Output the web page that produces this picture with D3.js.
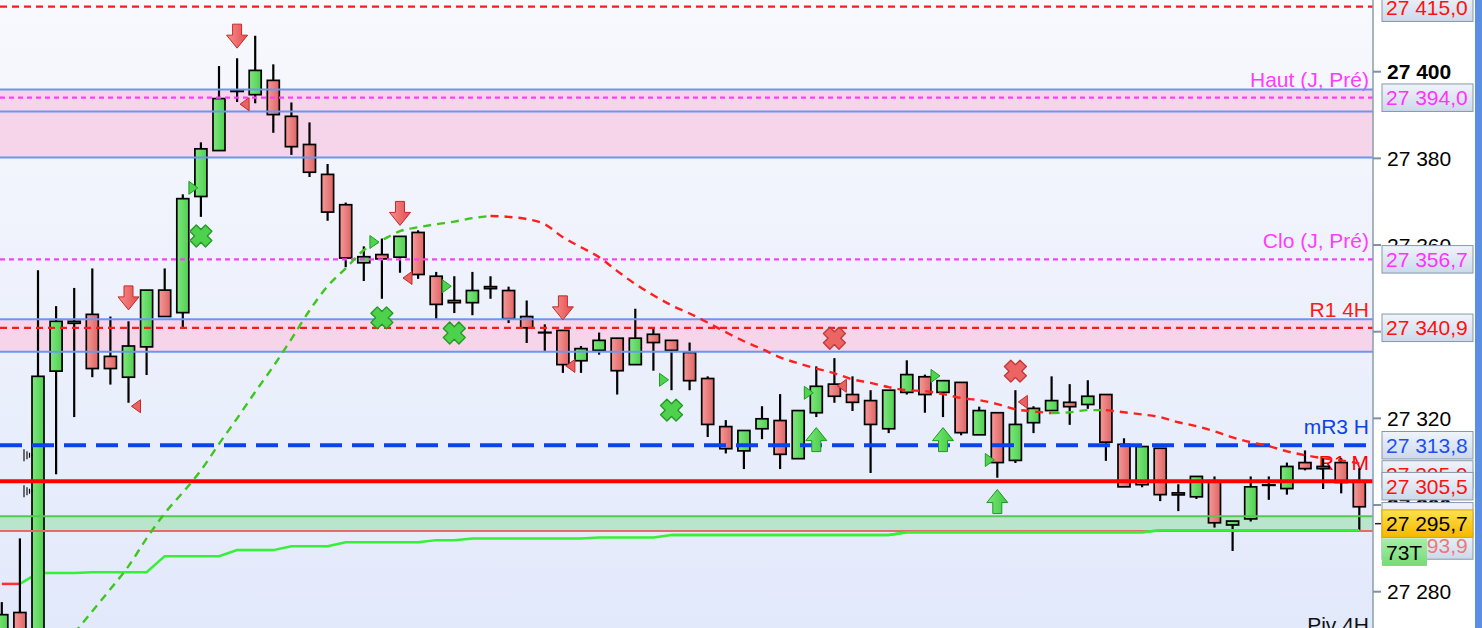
<!DOCTYPE html>
<html lang="fr">
<head>
<meta charset="UTF-8">
<title>Chandeliers 27 300</title>
<style>
  body { margin: 0; overflow: hidden; background: #fff; }
  svg { display: block; font-family: "Liberation Sans", Arial, sans-serif; }
  .wick { stroke: #000; stroke-width: 2.2; }
  .body { stroke: #000; stroke-width: 1.7; }
  .tick-label { font-size: 21px; fill: #000; }
  .lvl-label { font-size: 21px; text-anchor: end; }
  .tag-text { font-size: 21px; }
</style>
<script src="https://d3js.org/d3.v7.min.js"></script>
</head>
<body>
<script>
// candles, one per bar (index 0 = partly cut off on the left)
const opens = [27263, 27275.2, 27256, 27330.9, 27342.1, 27344.0, 27334.3, 27329.5, 27336.5, 27349.6,
  27344.4, 27371.2, 27381.8, 27395.5, 27394.7, 27398.0, 27389.7, 27383.2, 27376.3, 27369.3,
  27355.9, 27357.8, 27357.2, 27362.9, 27352.8, 27346.7, 27346.7, 27350.4, 27349.5, 27343.5,
  27339.8, 27340.3, 27333.3, 27335.7, 27338.5, 27332.4, 27339.4, 27338.0, 27335.2, 27329.2,
  27318.1, 27312.5, 27317.6, 27319.5, 27310.7, 27321.3, 27327.9, 27325.5, 27324.1, 27317.6,
  27326.0, 27329.6, 27326.0, 27328.3, 27316.2, 27321.3, 27310.3, 27319.0, 27321.8, 27323.7,
  27323.2, 27325.5, 27314.0, 27304.7, 27313.1, 27302.8, 27301.9, 27305.6, 27295.4, 27296.8,
  27304.6, 27303.8, 27309.8, 27308.4, 27309.8, 27305.6];
const highs = [27277.6, 27292.3, 27354.2, 27345.9, 27350.1, 27354.6, 27343.5, 27342.4, 27349.6, 27354.6,
  27371.7, 27383.7, 27401.3, 27403.1, 27408.3, 27401.7, 27392.9, 27388.3, 27378.7, 27369.8,
  27359.7, 27361.5, 27362.0, 27363.4, 27353.8, 27352.8, 27353.8, 27352.8, 27350.4, 27347.2,
  27341.7, 27340.3, 27336.7, 27339.8, 27338.5, 27345.3, 27340.8, 27338.0, 27337.5, 27329.7,
  27319.6, 27317.2, 27322.8, 27325.6, 27321.8, 27332.0, 27333.9, 27329.7, 27326.5, 27326.5,
  27333.4, 27330.1, 27328.7, 27328.3, 27322.7, 27321.3, 27326.5, 27322.8, 27329.7, 27327.9,
  27328.8, 27325.5, 27315.4, 27313.5, 27313.1, 27304.8, 27306.6, 27306.6, 27296.3, 27306.6,
  27306.6, 27309.8, 27312.6, 27310.8, 27310.8, 27308.5];
const lows = [27259, 27263, 27251, 27307.1, 27320.3, 27329.5, 27327.8, 27323.6, 27330.0, 27343.5,
  27341.1, 27366.5, 27381.8, 27393.0, 27392.7, 27385.9, 27380.8, 27375.7, 27365.6, 27354.9,
  27351.7, 27347.6, 27353.6, 27352.2, 27342.9, 27344.3, 27343.8, 27347.6, 27342.0, 27337.4,
  27335.6, 27330.5, 27330.5, 27334.7, 27325.5, 27332.4, 27331.0, 27326.5, 27326.5, 27315.7,
  27311.9, 27308.3, 27315.2, 27308.3, 27310.7, 27320.3, 27323.6, 27321.7, 27307.4, 27316.6,
  27325.5, 27321.3, 27320.3, 27316.1, 27316.2, 27306.3, 27309.7, 27316.6, 27321.8, 27318.5,
  27322.2, 27310.2, 27304.2, 27304.1, 27300.9, 27298.6, 27301.4, 27294.8, 27289.4, 27296.2,
  27301.2, 27302.4, 27308.0, 27303.7, 27302.7, 27294.2];
const closes = [27274.7, 27266, 27329.7, 27342.4, 27342.4, 27331.5, 27331.5, 27336.7, 27349.6, 27343.5,
  27370.7, 27382.2, 27393.8, 27395.5, 27400.3, 27390.1, 27382.7, 27376.8, 27367.6, 27357.0,
  27357.3, 27356.8, 27362.0, 27353.2, 27346.3, 27347.2, 27349.5, 27350.0, 27343.0, 27340.9,
  27339.8, 27332.4, 27336.1, 27338.0, 27331.0, 27338.5, 27337.5, 27335.7, 27328.7, 27318.6,
  27313.0, 27317.2, 27319.9, 27311.7, 27321.8, 27327.4, 27325.1, 27323.7, 27318.6, 27326.5,
  27330.1, 27325.5, 27328.7, 27316.7, 27321.8, 27309.8, 27318.6, 27322.3, 27324.1, 27322.7,
  27325.1, 27314.5, 27304.2, 27313.5, 27302.4, 27302.4, 27306.6, 27295.9, 27296.3, 27304.2,
  27304.6, 27308.9, 27308.4, 27308.9, 27305.2, 27299.6];

// dashed moving average, starts at bar 4
const maStart = 4;
const maValues = [27270.4, 27275.5, 27280.6, 27285.9, 27292.3, 27298.1, 27302.9, 27308.0, 27314.1, 27320.0,
  27326.1, 27332.0, 27338.3, 27344.9, 27350.5, 27354.6, 27358.8, 27361.1, 27363.2, 27364.1,
  27364.8, 27365.4, 27366.2, 27366.7, 27366.5, 27366.0, 27364.8, 27361.8, 27359.5, 27357.2,
  27354.0, 27351.0, 27348.4, 27346.1, 27344.2, 27342.1, 27339.9, 27337.8, 27336.0, 27334.1,
  27332.7, 27331.5, 27330.4, 27329.0, 27328.2, 27327.2, 27326.5, 27326.3, 27325.6, 27324.7,
  27324.2, 27323.3, 27322.1, 27321.6, 27321.2, 27321.4, 27321.9, 27321.9, 27321.4, 27320.9,
  27320.3, 27319.1, 27318.2, 27317.0, 27315.6, 27314.5, 27313.6, 27312.4, 27311.5, 27310.8,
  27310.3, 27309.6];

// stepped trailing stop
const trailValues = [27281.8, 27281.8, 27284.3, 27284.3, 27284.3, 27284.5, 27284.5, 27284.5, 27284.5, 27288.2,
  27288.2, 27288.2, 27288.2, 27289.6, 27289.6, 27289.6, 27290.5, 27290.5, 27290.5, 27291.4,
  27291.4, 27291.4, 27291.4, 27291.4, 27291.9, 27291.9, 27292.3, 27292.3, 27292.3, 27292.3,
  27292.3, 27292.3, 27292.3, 27292.5, 27292.5, 27292.5, 27292.5, 27293.1, 27293.1, 27293.1,
  27293.1, 27293.1, 27293.1, 27293.1, 27293.1, 27293.1, 27293.1, 27293.1, 27293.1, 27293.1,
  27293.7, 27293.7, 27293.7, 27293.7, 27293.7, 27293.7, 27293.7, 27293.7, 27293.7, 27293.7,
  27293.7, 27293.7, 27293.7, 27293.7, 27294.2, 27294.2, 27294.2, 27294.2, 27294.2, 27294.2,
  27294.2, 27294.2, 27294.2, 27294.2, 27294.2, 27294.2];

// horizontal levels
const levelValues = [27415.0, 27394.0, 27356.7, 27340.9, 27313.8, 27305.5];
const levelNames = ["Top", "Haut (J, Pré)", "Clo (J, Pré)", "R1 4H", "mR3 H", "R1 M"];
const zoneTops = [27395.9, 27342.9];
const zoneBottoms = [27380.2, 27335.4];
const zoneInner = [27390.8];
const greenZone = [27297.4, 27294.0];

// right-hand price tags
const tagValues = [27415.0, 27394.0, 27356.7, 27340.9, 27313.8, 27305.9, 27305.5, 27297.4, 27293.9, 27295.7];
const currentPrice = 27295.7;
const timerText = "73T";
const tickValues = [27280, 27300, 27320, 27340, 27360, 27380, 27400];

// signals (bar index, price)
const arrowDownIdx = [7, 13, 22, 31];
const arrowDownVal = [27347.8, 27408.2, 27367.3, 27345.5];
const arrowUpIdx = [45, 52, 55];
const arrowUpVal = [27315.1, 27315.1, 27300.8];
const crossGreenIdx = [11, 21, 25, 37];
const crossGreenVal = [27362.1, 27343.2, 27339.7, 27321.9];
const crossRedIdx = [46, 56];
const crossRedVal = [27338.5, 27330.9];
const triRedIdx = [7, 13, 22, 31, 46, 56];
const triRedVal = [27322.8, 27392.5, 27352.4, 27332.1, 27327.5, 27323.8];
const triGreenIdx = [11, 21, 25, 37, 45, 52, 55];
const triGreenVal = [27373.2, 27360.7, 27350.5, 27328.9, 27325.9, 27329.8, 27310.4];

const width = 1482, height = 628;
const plotRight = 1373;
const axisRight = 1475;

const fr = d3.formatLocale({ decimal: ",", thousands: " ", grouping: [3], currency: ["", ""] });
const fmtTag = fr.format(",.1f");
const fmtTick = fr.format(",.0f");

const x = d3.scaleLinear().domain([0, opens.length - 1]).range([1.8, 1359.3]);
const y = d3.scaleLinear().domain([27280, 27400]).range([591.7, 71.7]);

const svg = d3.select("body").append("svg")
  .attr("width", width)
  .attr("height", height);

const defs = svg.append("defs");
function grad(id, stops, horizontal) {
  const g = defs.append("linearGradient").attr("id", id)
    .attr("x1", 0).attr("y1", 0)
    .attr("x2", horizontal ? 1 : 0).attr("y2", horizontal ? 0 : 1);
  stops.forEach((c, i) => g.append("stop").attr("offset", i / (stops.length - 1)).attr("stop-color", c));
}
grad("bg", ["#f8f9fd", "#e2e9fb"], false);
grad("gUp", ["#7fe67f", "#4fd04f"], true);
grad("gDn", ["#f49a9a", "#e06464"], true);
grad("tagBg", ["#f0f4fb", "#ccd9ea"], false);
grad("tagGold", ["#ffe24d", "#f5b700"], false);
grad("tagGreen", ["#a8eea8", "#76da76"], false);
grad("arrRed", ["#f89090", "#e24c4c"], true);
grad("arrGreen", ["#7fe67f", "#3cc83c"], true);

defs.append("clipPath").attr("id", "plotClip")
  .append("rect").attr("x", 0).attr("y", 0).attr("width", plotRight).attr("height", height);

// plot background
svg.append("rect")
  .attr("x", 0).attr("y", 0).attr("width", plotRight).attr("height", height)
  .attr("fill", "url(#bg)");

const plot = svg.append("g").attr("clip-path", "url(#plotClip)");

// zones
plot.selectAll(".zone")
  .data(zoneTops)
  .enter().append("rect")
  .attr("class", "zone")
  .attr("x", 0).attr("width", plotRight)
  .attr("y", d => y(d))
  .attr("height", (d, i) => y(zoneBottoms[i]) - y(d))
  .attr("fill", "#f6d4ea");

plot.append("rect")
  .attr("x", 0).attr("width", plotRight)
  .attr("y", y(greenZone[0]))
  .attr("height", y(greenZone[1]) - y(greenZone[0]))
  .attr("fill", "#b8e5cb");

// level labels (under the candles)
const levelStyle = {
  "Top": { color: "#ff1a1a", width: 2.2, dash: "7,5" },
  "Haut (J, Pré)": { color: "#ff3cff", width: 2.2, dash: "5,4" },
  "Clo (J, Pré)": { color: "#ff3cff", width: 2.2, dash: "5,4" },
  "R1 4H": { color: "#ff1a1a", width: 2.2, dash: "7,5" },
  "mR3 H": { color: "#0a44e8", width: 4, dash: "22,10" },
  "R1 M": { color: "#ff0000", width: 4, dash: null }
};

plot.selectAll(".lvl-label")
  .data(levelValues.slice(1))
  .enter().append("text")
  .attr("class", "lvl-label")
  .attr("x", plotRight - 4)
  .attr("y", d => y(d) - 11)
  .attr("fill", (d, i) => levelStyle[levelNames[i + 1]].color)
  .text((d, i) => levelNames[i + 1]);

// trailing stop line (under candles)
const trailLine = d3.line().x(d => x(d)).y(d => y(trailValues[d]));
plot.append("path")
  .attr("d", trailLine(d3.range(1, trailValues.length)))
  .attr("fill", "none").attr("stroke", "#36f036").attr("stroke-width", 2.5);
plot.append("path")
  .attr("d", trailLine([0, 1]))
  .attr("fill", "none").attr("stroke", "#ff3030").attr("stroke-width", 2.5);

// candles
const idx = d3.range(opens.length);
const bodyW = 12;

plot.selectAll(".wick")
  .data(idx)
  .enter().append("line")
  .attr("class", "wick")
  .attr("x1", i => x(i)).attr("x2", i => x(i))
  .attr("y1", i => y(highs[i])).attr("y2", i => y(lows[i]));

plot.selectAll(".body")
  .data(idx.filter(i => opens[i] !== closes[i]))
  .enter().append("rect")
  .attr("class", "body")
  .attr("x", i => x(i) - bodyW / 2)
  .attr("width", bodyW)
  .attr("y", i => y(Math.max(opens[i], closes[i])))
  .attr("height", i => Math.max(2, Math.abs(y(opens[i]) - y(closes[i]))))
  .attr("fill", i => closes[i] > opens[i] ? "url(#gUp)" : "url(#gDn)");

plot.selectAll(".doji")
  .data(idx.filter(i => opens[i] === closes[i]))
  .enter().append("line")
  .attr("class", "wick")
  .attr("x1", i => x(i) - bodyW / 2 - 1).attr("x2", i => x(i) + bodyW / 2 + 1)
  .attr("y1", i => y(opens[i])).attr("y2", i => y(opens[i]));

// zone borders and level lines over the candles
const blueEdges = zoneTops.concat(zoneBottoms, zoneInner);
plot.selectAll(".edge")
  .data(blueEdges)
  .enter().append("line")
  .attr("x1", 0).attr("x2", plotRight)
  .attr("y1", d => y(d)).attr("y2", d => y(d))
  .attr("stroke", "#6b97ef").attr("stroke-width", 2);

plot.append("line")
  .attr("x1", 0).attr("x2", plotRight)
  .attr("y1", y(greenZone[0])).attr("y2", y(greenZone[0]))
  .attr("stroke", "#55c855").attr("stroke-width", 2);
plot.append("line")
  .attr("x1", 0).attr("x2", plotRight)
  .attr("y1", y(greenZone[1])).attr("y2", y(greenZone[1]))
  .attr("stroke", "#e26c6c").attr("stroke-width", 2);

plot.selectAll(".level")
  .data(levelValues)
  .enter().append("line")
  .attr("x1", 0).attr("x2", plotRight)
  .attr("y1", d => y(d)).attr("y2", d => y(d))
  .attr("stroke", (d, i) => levelStyle[levelNames[i]].color)
  .attr("stroke-width", (d, i) => levelStyle[levelNames[i]].width)
  .attr("stroke-dasharray", (d, i) => levelStyle[levelNames[i]].dash);

// the trailing stop sits on the band edge on the right: draw it again there
plot.append("path")
  .attr("d", trailLine(d3.range(37, trailValues.length)))
  .attr("fill", "none").attr("stroke", "#36f036").attr("stroke-width", 2.5);

// small line-tool icons on the left
[levelValues[4], levelValues[5]].forEach(v => {
  const g = plot.append("g").attr("transform", `translate(24, ${y(v) + 4})`);
  [[0, 12], [3, 8], [5.5, 5]].forEach(b => {
    g.append("line").attr("x1", b[0]).attr("x2", b[0])
      .attr("y1", 6 - b[1] / 2).attr("y2", 6 + b[1] / 2)
      .attr("stroke", "#111").attr("stroke-width", 1.2);
  });
  g.append("circle").attr("cx", 8).attr("cy", 6).attr("r", 0.9).attr("fill", "#111");
});

// moving average, green when rising, red when falling
const maPts = maValues.map((v, k) => ({ i: maStart + k, v: v }));
let runs = [];
for (let k = 1; k < maPts.length; k++) {
  const col = maPts[k].v >= maPts[k - 1].v ? "up" : "dn";
  if (runs.length && runs[runs.length - 1].col === col) runs[runs.length - 1].pts.push(maPts[k]);
  else runs.push({ col: col, pts: [maPts[k - 1], maPts[k]] });
}
const maLine = d3.line().x(d => x(d.i)).y(d => y(d.v)).curve(d3.curveMonotoneX);
plot.selectAll(".ma")
  .data(runs)
  .enter().append("path")
  .attr("d", d => maLine(d.pts))
  .attr("fill", "none")
  .attr("stroke", d => d.col === "up" ? "#3cc61e" : "#ff1f1f")
  .attr("stroke-width", 2.4)
  .attr("stroke-dasharray", "8,6");

// signals
const arrowPath = "M-4.5,-12L4.5,-12L4.5,-1L10.5,-1L0,12L-10.5,-1L-4.5,-1Z";
plot.selectAll(".adown")
  .data(arrowDownIdx)
  .enter().append("path")
  .attr("d", arrowPath)
  .attr("transform", (d, k) => `translate(${x(d)},${y(arrowDownVal[k])})`)
  .attr("fill", "url(#arrRed)").attr("stroke", "#c42a2a").attr("stroke-width", 1);

plot.selectAll(".aup")
  .data(arrowUpIdx)
  .enter().append("path")
  .attr("d", arrowPath)
  .attr("transform", (d, k) => `translate(${x(d)},${y(arrowUpVal[k])}) scale(1,-1)`)
  .attr("fill", "url(#arrGreen)").attr("stroke", "#1b9a1b").attr("stroke-width", 1);

const crossPath = "M-4.5,-11L4.5,-11L4.5,-4.5L11,-4.5L11,4.5L4.5,4.5L4.5,11L-4.5,11L-4.5,4.5L-11,4.5L-11,-4.5L-4.5,-4.5Z";
function crosses(idxs, vals, fill, stroke) {
  plot.selectAll(null)
    .data(idxs)
    .enter().append("path")
    .attr("d", crossPath)
    .attr("transform", (d, k) => `translate(${x(d)},${y(vals[k])}) rotate(45)`)
    .attr("fill", fill).attr("stroke", stroke).attr("stroke-width", 1.4)
    .attr("stroke-linejoin", "round");
}
crosses(crossGreenIdx, crossGreenVal, "#4ed24e", "#239b23");
crosses(crossRedIdx, crossRedVal, "#ec6464", "#c23a3a");

plot.selectAll(".tred")
  .data(triRedIdx)
  .enter().append("path")
  .attr("d", "M-5,0L4,-6.5L4,6.5Z")
  .attr("transform", (d, k) => `translate(${x(d) + 8},${y(triRedVal[k])})`)
  .attr("fill", "#ec6060").attr("stroke", "#c02c2c").attr("stroke-width", 1);

plot.selectAll(".tgreen")
  .data(triGreenIdx)
  .enter().append("path")
  .attr("d", "M5,0L-4,-6.5L-4,6.5Z")
  .attr("transform", (d, k) => `translate(${x(d) - 8},${y(triGreenVal[k])})`)
  .attr("fill", "#4fd44f").attr("stroke", "#1e9e1e").attr("stroke-width", 1);

// Piv 4H label at the bottom edge
plot.append("text")
  .attr("class", "lvl-label")
  .attr("x", plotRight - 4).attr("y", 632)
  .attr("fill", "#111")
  .text("Piv 4H");

// right axis
svg.append("rect")
  .attr("x", plotRight).attr("y", 0).attr("width", axisRight - plotRight).attr("height", height)
  .attr("fill", "#fff");
svg.append("rect")
  .attr("x", axisRight).attr("y", 0).attr("width", width - axisRight).attr("height", height)
  .attr("fill", "#5b8fe6");
svg.append("line")
  .attr("x1", plotRight).attr("x2", plotRight).attr("y1", 0).attr("y2", height)
  .attr("stroke", "#8a9cb0").attr("stroke-width", 1.5);

const axis = svg.append("g");
axis.selectAll(".tk")
  .data(tickValues)
  .enter().append("line")
  .attr("x1", plotRight).attr("x2", plotRight + 8)
  .attr("y1", d => y(d)).attr("y2", d => y(d))
  .attr("stroke", "#7f91a5").attr("stroke-width", 2);
axis.selectAll(".tick-label")
  .data(tickValues)
  .enter().append("text")
  .attr("class", "tick-label")
  .attr("x", plotRight + 14)
  .attr("y", d => y(d) + 7.5)
  .attr("font-weight", d => d % 100 === 0 ? "bold" : "normal")
  .text(d => fmtTick(d));

axis.append("line")
  .attr("x1", plotRight + 2).attr("x2", plotRight + 8)
  .attr("y1", y(currentPrice)).attr("y2", y(currentPrice))
  .attr("stroke", "#222").attr("stroke-width", 1.5);

// tags: colours and small shifts where they collide
const tagColors = ["#ff1010", "#ff33ff", "#ff33ff", "#ff1010", "#1d4ff2", "#ff1010", "#ff1010", "#38b838", "#e87a7a", "#000"];
const tagShift = [1, 0, 0, 0, 0, -5, 5, 0, 14, 0];
const tagH = 27.5, tagX = plotRight + 9, tagW = 91;
tagValues.forEach((v, k) => {
  const cy = y(v) + tagShift[k];
  const isCur = v === currentPrice;
  svg.append("rect")
    .attr("x", tagX).attr("y", cy - tagH / 2).attr("width", tagW).attr("height", tagH)
    .attr("fill", isCur ? "url(#tagGold)" : "url(#tagBg)")
    .attr("stroke", isCur ? "#d6a800" : "#8797ab").attr("stroke-width", 1);
  svg.append("text")
    .attr("class", "tag-text")
    .attr("x", tagX + 4).attr("y", cy + 7.5)
    .attr("fill", tagColors[k])
    .text(fmtTag(v));
});

// timer box under the current price
const cyCur = y(currentPrice) + tagH;
svg.append("rect")
  .attr("x", tagX).attr("y", cyCur - tagH / 2 + 1).attr("width", 45).attr("height", tagH)
  .attr("fill", "url(#tagGreen)");
svg.append("text")
  .attr("class", "tag-text")
  .attr("x", tagX + 4).attr("y", cyCur + 8.5)
  .attr("fill", "#000")
  .text(timerText);
</script>
</body>
</html>
